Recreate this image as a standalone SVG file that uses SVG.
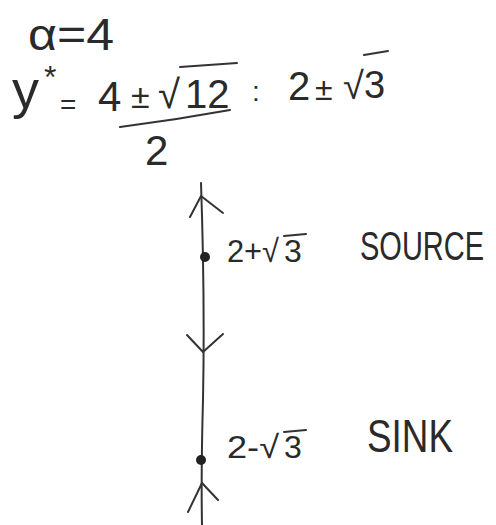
<svg xmlns="http://www.w3.org/2000/svg" width="496" height="525" viewBox="0 0 496 525">
<style>
text{font-family:"Liberation Sans","DejaVu Sans",sans-serif;fill:#2a2a2a}
.ln{fill:none;stroke:#333;stroke-width:2;stroke-linecap:round;stroke-linejoin:round}
</style>
<rect width="496" height="525" fill="#fff"/>
<g id="equations">
<text x="28" y="50" font-size="44" textLength="86" lengthAdjust="spacingAndGlyphs">α=4</text>
<text x="12" y="108" font-size="54">y</text>
<text x="44" y="88" font-size="32">*</text>
<text x="60" y="114" font-size="28">=</text>
<text x="98" y="111" font-size="42">4</text>
<text x="131" y="108" font-size="34">±</text>
<text x="158" y="108" font-size="40">√</text>
<text x="185" y="108" font-size="40">12</text>
<line class="ln" x1="180" y1="67" x2="237" y2="63"/>
<path class="ln" d="M120 127 Q175 120 230 110"/>
<text x="145" y="165" font-size="42">2</text>
<text x="252" y="101" font-size="28">:</text>
<text x="288" y="100" font-size="40">2</text>
<text x="315" y="100" font-size="32">±</text>
<text x="343" y="99" font-size="38">√</text>
<text x="364" y="98" font-size="38">3</text>
<line class="ln" x1="364" y1="55" x2="388" y2="51"/>
</g>
<g id="connectors">
<path class="ln" d="M201 183 Q205 300 203 400 Q201 470 202 525"/>
<polyline class="ln" points="190,217 201,196 223,213"/>
<polyline class="ln" points="187,335 203,352 223,334"/>
<polyline class="ln" points="188,512 202,483 218,500"/>
</g>
<g id="source">
<circle cx="205" cy="257" r="5" fill="#222"/>
<text x="227" y="262" font-size="32" textLength="52" lengthAdjust="spacingAndGlyphs">2+√</text>
<text x="284" y="262" font-size="32">3</text>
<line class="ln" x1="284" y1="236" x2="306" y2="234"/>
<text transform="translate(360,260) scale(1,1.38)" x="0" y="0" font-size="29">SOURCE</text>
</g>
<g id="sink">
<circle cx="201" cy="460" r="5" fill="#222"/>
<text x="227" y="458" font-size="32" textLength="52" lengthAdjust="spacingAndGlyphs">2-√</text>
<text x="284" y="458" font-size="32">3</text>
<line class="ln" x1="284" y1="432" x2="306" y2="430"/>
<text x="367" y="452" font-size="46" textLength="86" lengthAdjust="spacingAndGlyphs">SINK</text>
</g>
</svg>
